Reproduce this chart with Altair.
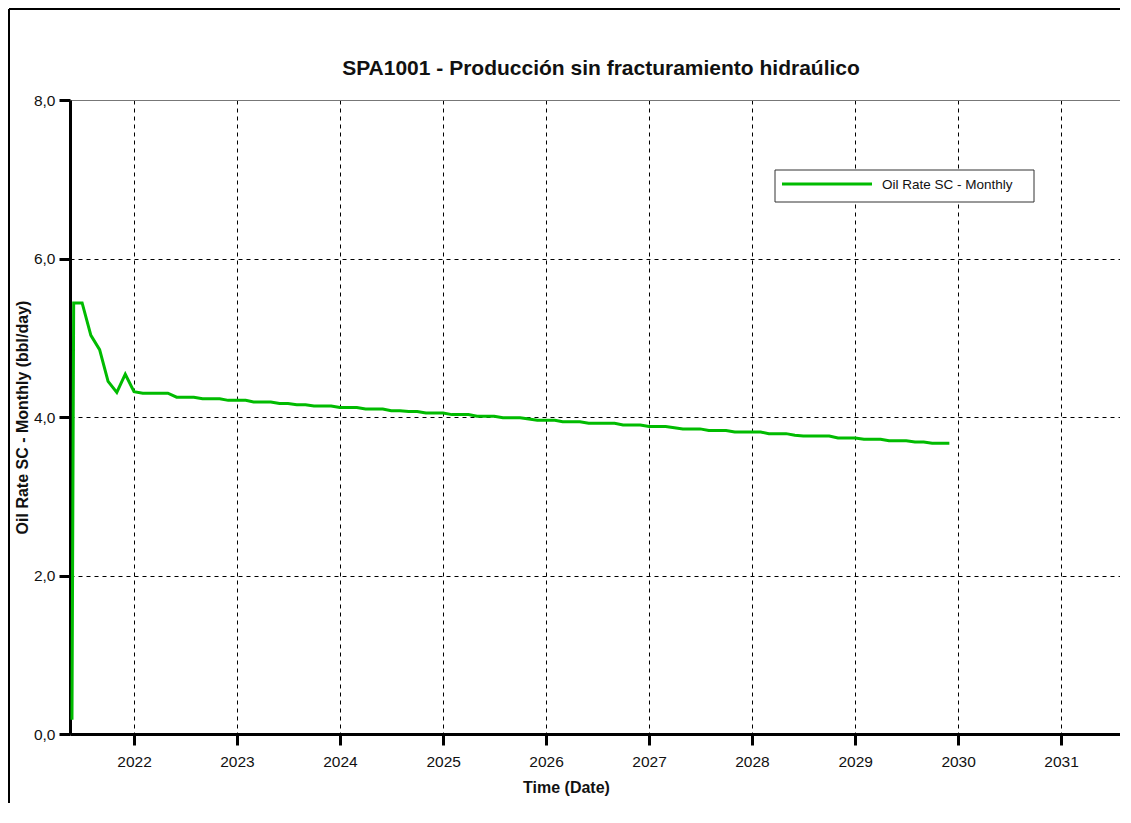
import altair as alt
import pandas as pd

series_name = "Oil Rate SC - Monthly"

# first (partial) record before the monthly series
first_date = "2021-05-26"
first_value = 0.18

# monthly values, 2021-06 .. 2029-12
months_2021 = ["2021-06-01", "2021-07-01", "2021-08-01", "2021-09-01",
               "2021-10-01", "2021-11-01", "2021-12-01"]
values_2021 = [5.44, 5.44, 5.03, 4.85, 4.45, 4.31, 4.54]
values_2022 = [4.32, 4.30, 4.30, 4.30, 4.30, 4.25, 4.25, 4.25, 4.23, 4.23, 4.23, 4.21]
values_2023 = [4.21, 4.21, 4.19, 4.19, 4.19, 4.17, 4.17, 4.155, 4.155, 4.14, 4.14, 4.14]
values_2024 = [4.12, 4.12, 4.12, 4.10, 4.10, 4.10, 4.08, 4.08, 4.07, 4.07, 4.05, 4.05]
values_2025 = [4.05, 4.03, 4.03, 4.03, 4.01, 4.01, 4.01, 3.99, 3.99, 3.99, 3.975, 3.96]
values_2026 = [3.96, 3.96, 3.94, 3.94, 3.94, 3.92, 3.92, 3.92, 3.92, 3.90, 3.90, 3.90]
values_2027 = [3.88, 3.88, 3.88, 3.865, 3.85, 3.85, 3.85, 3.83, 3.83, 3.83, 3.81, 3.81]
values_2028 = [3.81, 3.81, 3.79, 3.79, 3.79, 3.77, 3.76, 3.76, 3.76, 3.76, 3.735, 3.735]
values_2029 = [3.735, 3.72, 3.72, 3.72, 3.70, 3.70, 3.70, 3.685, 3.685, 3.67, 3.67, 3.67]

tick_years = list(range(2022, 2032))
y_ticks = [0, 2, 4, 6, 8]

dates = [first_date] + months_2021
vals = [first_value] + values_2021
for yr, yv in zip(range(2022, 2030),
                  [values_2022, values_2023, values_2024, values_2025,
                   values_2026, values_2027, values_2028, values_2029]):
    for mi, v in enumerate(yv):
        dates.append(f"{yr}-{mi + 1:02d}-01")
        vals.append(v)

df = pd.DataFrame({"date": dates, "rate": vals, "series": series_name})
legend_df = pd.DataFrame({"series": [series_name]})

W, H = 1050, 634
FONT = "Liberation Sans"
GREEN = "#00BB00"
INK = "#111111"

x_axis = alt.Axis(
    values=[alt.DateTime(year=y, month=1, date=1, utc=True) for y in tick_years],
    format="%Y", labelFontSize=15.5, labelFont=FONT, labelColor=INK,
    labelPadding=9, labelFlush=False,
    tickSize=11, tickWidth=3, tickColor="black",
    domainWidth=3, domainColor="black",
    grid=True, gridColor="black", gridDash=[4, 4], gridWidth=1, gridOpacity=1,
    title="Time (Date)", titleFont=FONT, titleFontSize=16, titleFontWeight="bold",
    titleColor=INK, titleX=496, titleY=53, titleAlign="center",
    titleBaseline="middle", titleAnchor="start",
)

y_axis = alt.Axis(
    values=y_ticks,
    labelExpr="replace(format(datum.value, '.1f'), '.', ',')",
    labelFontSize=15.5, labelFont=FONT, labelColor=INK, labelPadding=4,
    tickSize=11, tickWidth=3, tickColor="black",
    domainWidth=3, domainColor="black",
    grid=True,
    gridColor={"condition": {"test": "datum.value === 8", "value": "#777777"}, "value": "black"},
    gridDash={"condition": {"test": "datum.value === 8", "value": []}, "value": [4, 4]},
    gridWidth=1, gridOpacity=1,
    title="Oil Rate SC - Monthly (bbl/day)", titleFont=FONT, titleFontSize=16,
    titleFontWeight="bold", titleColor=INK, titleAngle=270,
    titleX=-48, titleY=H / 2, titleAlign="center", titleBaseline="middle",
    titleAnchor="start",
)

line = alt.Chart(df).mark_line(strokeWidth=3, color=GREEN).encode(
    x=alt.X("date:T", axis=x_axis,
            scale=alt.Scale(type="utc", domain=[
                alt.DateTime(year=2021, month=5, date=19, utc=True),
                alt.DateTime(year=2031, month=7, date=29, utc=True)])),
    y=alt.Y("rate:Q", axis=y_axis, scale=alt.Scale(domain=[0, 8], nice=False)),
)

# legend box (drawn as marks so the box matches the original's shape)
leg_box = alt.Chart(legend_df).mark_rect(
    fill="white", stroke="#333333", strokeWidth=1).encode(
    x=alt.value(705), x2=alt.value(964), y=alt.value(70), y2=alt.value(102))
leg_line = alt.Chart(legend_df).mark_rule(color=GREEN, strokeWidth=3).encode(
    x=alt.value(712), x2=alt.value(802), y=alt.value(84))
leg_text = alt.Chart(legend_df).mark_text(
    align="left", baseline="middle", font=FONT, fontSize=13.5, color=INK).encode(
    x=alt.value(812), y=alt.value(85), text="series:N")

frame_data = alt.Data(values=[{"k": 0}])
frame_left = alt.Chart(frame_data).mark_rule(color="black", strokeWidth=2).encode(
    x=alt.value(-61), y=alt.value(-91), y2=alt.value(H + 200))
frame_top = alt.Chart(frame_data).mark_rule(color="black", strokeWidth=2).encode(
    x=alt.value(-61), x2=alt.value(W + 100), y=alt.value(-91))

chart = alt.layer(line, leg_box, leg_line, leg_text, frame_left, frame_top).properties(
    width=W, height=H,
    title=alt.TitleParams(
        "SPA1001 - Producción sin fracturamiento hidraúlico",
        font=FONT, fontSize=21, fontWeight="bold", color=INK,
        anchor="middle", frame="group", dx=6, offset=24, dy=112,
        baseline="alphabetic"),
    padding={"left": 62, "top": 92, "right": 0, "bottom": 69},
    autosize=alt.AutoSizeParams(type="none"),
    background="white",
).configure_view(stroke=None)

chart.save("out.html", embed_options={"renderer": "svg", "actions": False})
